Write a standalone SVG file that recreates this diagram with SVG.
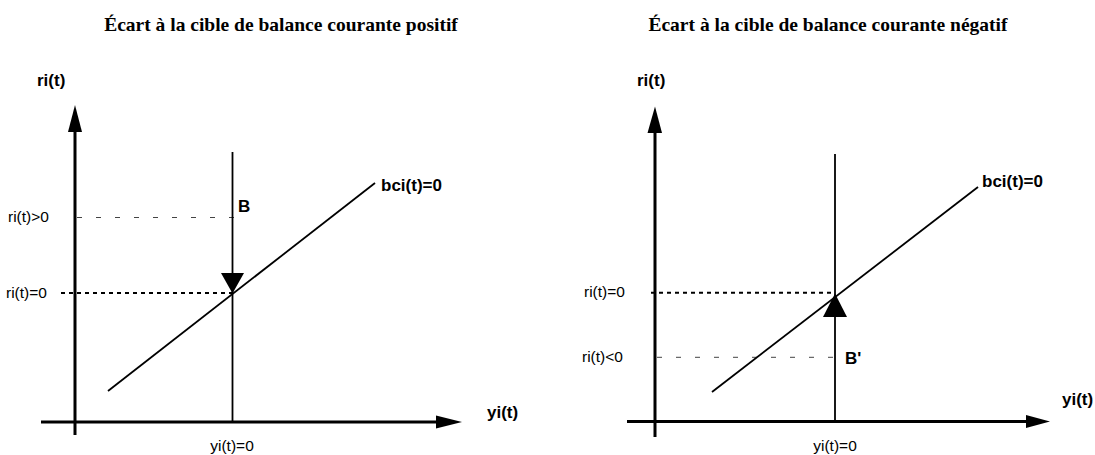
<svg xmlns="http://www.w3.org/2000/svg" width="1095" height="455" viewBox="0 0 1095 455">
<style>
.title{font-family:"Liberation Serif","Times New Roman",serif;font-weight:bold;font-size:19.5px;fill:#000;text-anchor:middle}
.bl{font-family:"Liberation Sans",Arial,sans-serif;font-weight:bold;font-size:17px;fill:#000}
.rl{font-family:"Liberation Sans",Arial,sans-serif;font-size:15.5px;fill:#000}
.axis{stroke:#000;stroke-width:3;fill:none}
.thin{stroke:#000;stroke-width:1.8;fill:none}
.dot{stroke:#000;stroke-width:2;stroke-dasharray:4 4;fill:none}
.dash{stroke:#444;stroke-width:1;stroke-dasharray:5 14;fill:none}
.head{fill:#000;stroke:none}
</style>
<rect width="1095" height="455" fill="#fff"/>
<g id="panel-left">
  <text class="title" x="281" y="31">Écart à la cible de balance courante positif</text>
  <text class="bl" x="37" y="86">ri(t)</text>
  <text class="bl" x="487" y="418">yi(t)</text>
  <text class="bl" x="381" y="191">bci(t)=0</text>
  <text class="bl" x="238" y="212">B</text>
  <text class="rl" x="8" y="222">ri(t)&gt;0</text>
  <text class="rl" x="6" y="298">ri(t)=0</text>
  <text class="rl" x="232" y="451" text-anchor="middle">yi(t)=0</text>
</g>
<g id="panel-right">
  <text class="title" x="828" y="31">Écart à la cible de balance courante négatif</text>
  <text class="bl" x="637" y="86">ri(t)</text>
  <text class="bl" x="1062" y="405">yi(t)</text>
  <text class="bl" x="982" y="187">bci(t)=0</text>
  <text class="bl" x="845" y="364">B'</text>
  <text class="rl" x="584" y="297">ri(t)=0</text>
  <text class="rl" x="582" y="362">ri(t)&lt;0</text>
  <text class="rl" x="835" y="451" text-anchor="middle">yi(t)=0</text>
</g>
<g id="connectors">
  <line class="axis" x1="75" y1="435" x2="75" y2="128"/>
  <polygon class="head" points="75,105 68,132 82,132"/>
  <line class="axis" x1="41" y1="422" x2="440" y2="422"/>
  <polygon class="head" points="462,422 436,415.5 436,428.5"/>
  <line class="dash" x1="77" y1="217.5" x2="236" y2="217.5"/>
  <line class="dot" x1="61" y1="293" x2="232" y2="293"/>
  <line class="thin" x1="232.5" y1="152" x2="232.5" y2="422"/>
  <polygon class="head" points="221,273 244,273 232.5,293.5"/>
  <line class="thin" x1="108" y1="391" x2="375" y2="183"/>

  <line class="axis" x1="655" y1="437" x2="655" y2="130"/>
  <polygon class="head" points="655,106.5 647.5,133 662,133"/>
  <line class="axis" x1="627" y1="421.5" x2="1028" y2="421.5"/>
  <polygon class="head" points="1050,421.5 1026,415 1026,428"/>
  <line class="dot" x1="651" y1="292.7" x2="835" y2="292.7"/>
  <line class="dash" x1="657" y1="357.3" x2="835" y2="357.3"/>
  <line class="thin" x1="835" y1="154" x2="835" y2="421"/>
  <polygon class="head" points="835,293.5 823,317 847,317"/>
  <line class="thin" x1="712" y1="392" x2="978" y2="187"/>
</g>
</svg>
